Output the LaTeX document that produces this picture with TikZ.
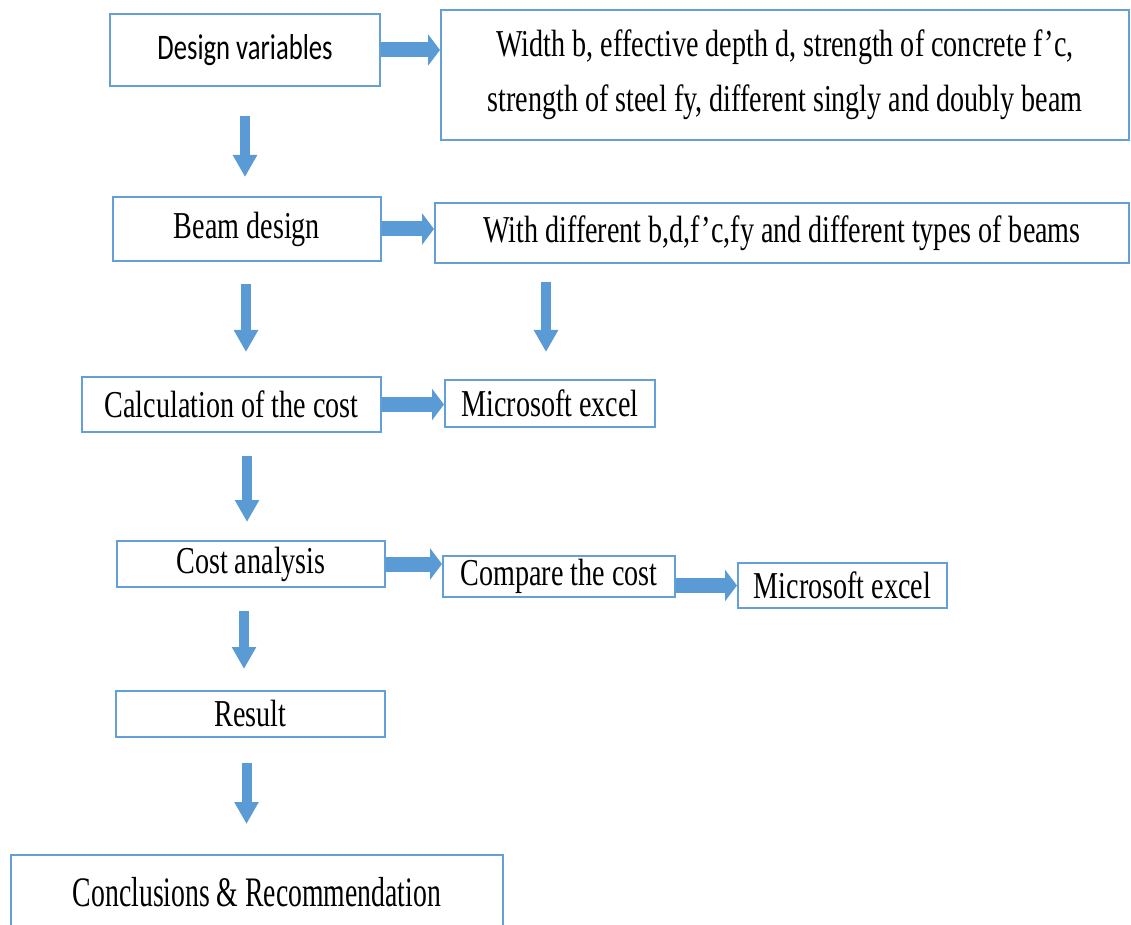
\documentclass[tikz,border=0pt]{standalone}
\usepackage{fontspec}
\usetikzlibrary{arrows.meta}
\newfontfamily\flowfont[FakeStretch=0.74]{Liberation Serif}
\newfontfamily\tallfont[FakeStretch=0.66]{Liberation Serif}
\newfontfamily\calfont[FakeStretch=0.74]{Carlito}
\definecolor{boxblue}{RGB}{100,160,215}
\definecolor{arrowblue}{RGB}{91,155,213}
\begin{document}
\begin{tikzpicture}[x=0.5pt,y=-0.5pt,
  box/.style={draw=boxblue, line width=1pt, inner sep=0pt, align=center,
    font=\flowfont\fontsize{19}{27.5}\selectfont},
  rarrow/.style={draw=arrowblue, line width=7.5pt, -{Triangle[length=6pt,width=15.5pt]}},
  darrow/.style={draw=arrowblue, line width=5pt, -{Triangle[length=11pt,width=11.5pt]}}]
\useasboundingbox (0,0) rectangle (1131,925);
\clip (0,0) rectangle (1131,925);

\node[box, minimum width=135pt, minimum height=36pt, font=\calfont\fontsize{18}{20}\selectfont] (design) at (245,50) {Design variables};
\node[box, minimum width=344pt, minimum height=65pt] (params) at (785,75) {Width b, effective depth d, strength of concrete f’c,\\strength of steel fy, different singly and doubly beam};
\node[box, minimum width=134pt, minimum height=32pt] (beam) at (247,229) {Beam design};
\node[box, minimum width=347pt, minimum height=30pt] (withdiff) at (782,233) {With different b,d,f’c,fy and different types of beams};
\node[box, minimum width=149.5pt, minimum height=27.5pt] (calc) at (231.5,404.5) {Calculation of the cost};
\node[box, minimum width=105pt, minimum height=23.5pt] (excelA) at (550,403.5) {Microsoft excel};
\node[box, minimum width=134pt, minimum height=23pt] (cost) at (251,564) {Cost analysis};
\node[box, minimum width=116pt, minimum height=20.5pt] (compare) at (559,576.5) {Compare the cost};
\node[box, minimum width=104.5pt, minimum height=22.5pt] (excelB) at (842.5,585.5) {Microsoft excel};
\node[box, minimum width=134.5pt, minimum height=23pt] (result) at (250.5,714) {Result};
\node[box, minimum width=246pt, minimum height=37pt, font=\tallfont\fontsize{21}{24}\selectfont] (concl) at (257,892) {Conclusions \& Recommendation};

% sideways
\path[rarrow] (design.east) -- (design.east -| params.west);
\path[rarrow] (beam.east) -- (beam.east -| withdiff.west);
\path[rarrow] (calc.east) -- (calc.east -| excelA.west);
\path[rarrow] (cost.east) -- (cost.east -| compare.west);
\path[rarrow] (excelB.west -| compare.east) -- (excelB.west);

% downwards
\path[darrow, shorten <=14.5pt, shorten >=9.5pt] (design.south) -- (design.south |- beam.north);
\path[darrow, shorten <=11pt, shorten >=12pt] ([xshift=-0.5pt]beam.south) -- ([xshift=-0.5pt]beam.south |- calc.north);
\path[darrow, shorten <=9pt, shorten >=13.5pt] ([xshift=-2pt]excelA.north |- withdiff.south) -- ([xshift=-2pt]excelA.north);
\path[darrow, shorten <=11.5pt, shorten >=9pt] ([xshift=-2pt]cost.north |- calc.south) -- ([xshift=-2pt]cost.north);
\path[darrow, shorten <=11.5pt, shorten >=10.5pt] ([xshift=-3.5pt]cost.south) -- ([xshift=-3.5pt]cost.south |- result.north);
\path[darrow, shorten <=12.5pt, shorten >=15pt] ([xshift=-2pt]result.south) -- ([xshift=-2pt]result.south |- concl.north);
\end{tikzpicture}
\end{document}
